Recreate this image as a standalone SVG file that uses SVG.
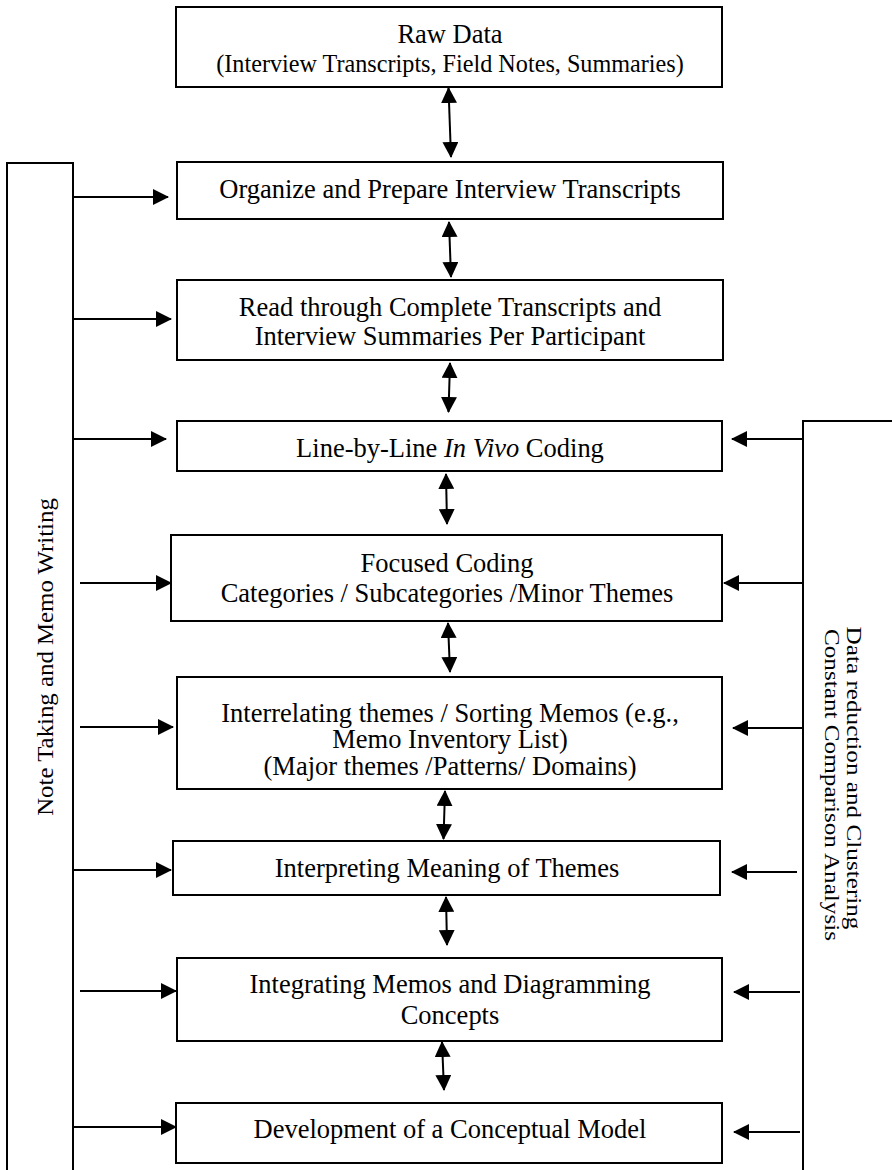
<svg xmlns="http://www.w3.org/2000/svg" width="892" height="1170" viewBox="0 0 892 1170">
<defs>
<marker id="ah" markerUnits="userSpaceOnUse" markerWidth="16" markerHeight="16" viewBox="0 0 16 16" refX="15" refY="8" orient="auto-start-reverse">
<path d="M0,0 L16,8 L0,16 z" fill="#000"/>
</marker>
</defs>
<style>
.box{fill:#fff;stroke:#000;stroke-width:2}
.t{font-family:"Liberation Serif","Times New Roman",serif;font-size:26.5px;fill:#000;text-anchor:middle}
.s{font-size:24.2px}
.r{font-family:"Liberation Serif","Times New Roman",serif;font-size:21px;fill:#000;text-anchor:middle}
.bar{fill:none;stroke:#000;stroke-width:2}
.c{stroke:#000;stroke-width:2;fill:none;marker-end:url(#ah)}
.d{stroke:#000;stroke-width:2;fill:none;marker-start:url(#ah);marker-end:url(#ah)}
</style>
<rect width="892" height="1170" fill="#fff"/>

<g id="left-bar">
<path class="bar" d="M7,1175 V163 H73 V1175"/>
<text class="r" style="font-size:23px" transform="translate(53,657) rotate(-90) scale(1.08,1)">Note Taking and Memo Writing</text>
</g>
<g id="right-bar">
<path class="bar" d="M803,1175 V421 H895"/>
<text class="r" transform="translate(847,778) rotate(90) scale(1.2,1)">Data reduction and Clustering</text>
<text class="r" transform="translate(825,785) rotate(90) scale(1.2,1)">Constant Comparison Analysis</text>
</g>

<g id="n1">
<rect class="box" x="176" y="7" width="546" height="80"/>
<text class="t" transform="translate(450,43) scale(1,1.06)">Raw Data</text>
<text class="t s" transform="translate(450,72) scale(1,1.06)">(Interview Transcripts, Field Notes, Summaries)</text>
</g>
<g id="n2">
<rect class="box" x="177" y="162" width="546" height="57"/>
<text class="t" transform="translate(450,198) scale(1,1.06)">Organize and Prepare Interview Transcripts</text>
</g>
<g id="n3">
<rect class="box" x="177" y="280" width="546" height="80"/>
<text class="t" transform="translate(450,316) scale(1,1.06)">Read through Complete Transcripts and</text>
<text class="t" transform="translate(450,345) scale(1,1.06)">Interview Summaries Per Participant</text>
</g>
<g id="n4">
<rect class="box" x="177" y="421" width="545" height="50"/>
<text class="t" transform="translate(450,457) scale(1,1.06)">Line-by-Line <tspan font-style="italic">In Vivo</tspan> Coding</text>
</g>
<g id="n5">
<rect class="box" x="171" y="535" width="551" height="86"/>
<text class="t" transform="translate(447,572) scale(1,1.06)">Focused Coding</text>
<text class="t" transform="translate(447,602) scale(1,1.06)">Categories / Subcategories /Minor Themes</text>
</g>
<g id="n6">
<rect class="box" x="177" y="677" width="545" height="112"/>
<text class="t" transform="translate(450,722) scale(1,1.06)">Interrelating themes / Sorting Memos (e.g.,</text>
<text class="t" transform="translate(450,748) scale(1,1.06)">Memo Inventory List)</text>
<text class="t" transform="translate(450,775) scale(1,1.06)">(Major themes /Patterns/ Domains)</text>
</g>
<g id="n7">
<rect class="box" x="173" y="841" width="547" height="54"/>
<text class="t" transform="translate(447,877) scale(1,1.06)">Interpreting Meaning of Themes</text>
</g>
<g id="n8">
<rect class="box" x="177" y="958" width="545" height="83"/>
<text class="t" transform="translate(450,993) scale(1,1.06)">Integrating Memos and Diagramming</text>
<text class="t" transform="translate(450,1024) scale(1,1.06)">Concepts</text>
</g>
<g id="n9">
<rect class="box" x="176" y="1103" width="546" height="60"/>
<text class="t" transform="translate(450,1138) scale(1,1.06)">Development of a Conceptual Model</text>
</g>

<g id="connectors">
<line class="d" x1="448.5" y1="88" x2="451" y2="157"/>
<line class="d" x1="449" y1="222" x2="451" y2="277"/>
<line class="d" x1="450" y1="363" x2="448.5" y2="412"/>
<line class="d" x1="446" y1="474" x2="447" y2="524"/>
<line class="d" x1="448" y1="623" x2="450" y2="672"/>
<line class="d" x1="445" y1="791" x2="443.5" y2="839"/>
<line class="d" x1="446" y1="897" x2="447" y2="945"/>
<line class="d" x1="442" y1="1042" x2="444" y2="1090"/>

<line class="c" x1="73" y1="197" x2="168" y2="197"/>
<line class="c" x1="73" y1="319" x2="171" y2="319"/>
<line class="c" x1="73" y1="439" x2="166" y2="439"/>
<line class="c" x1="80" y1="583" x2="171" y2="583"/>
<line class="c" x1="80" y1="727" x2="173" y2="727"/>
<line class="c" x1="73" y1="870" x2="171" y2="870"/>
<line class="c" x1="80" y1="991" x2="176" y2="991"/>
<line class="c" x1="74" y1="1127" x2="176" y2="1127"/>

<line class="c" x1="803" y1="439" x2="732" y2="439"/>
<line class="c" x1="803" y1="583" x2="724" y2="583"/>
<line class="c" x1="803" y1="728" x2="733" y2="728"/>
<line class="c" x1="797" y1="872" x2="732" y2="872"/>
<line class="c" x1="800" y1="992" x2="734" y2="992"/>
<line class="c" x1="800" y1="1132" x2="734" y2="1132"/>
</g>
</svg>
